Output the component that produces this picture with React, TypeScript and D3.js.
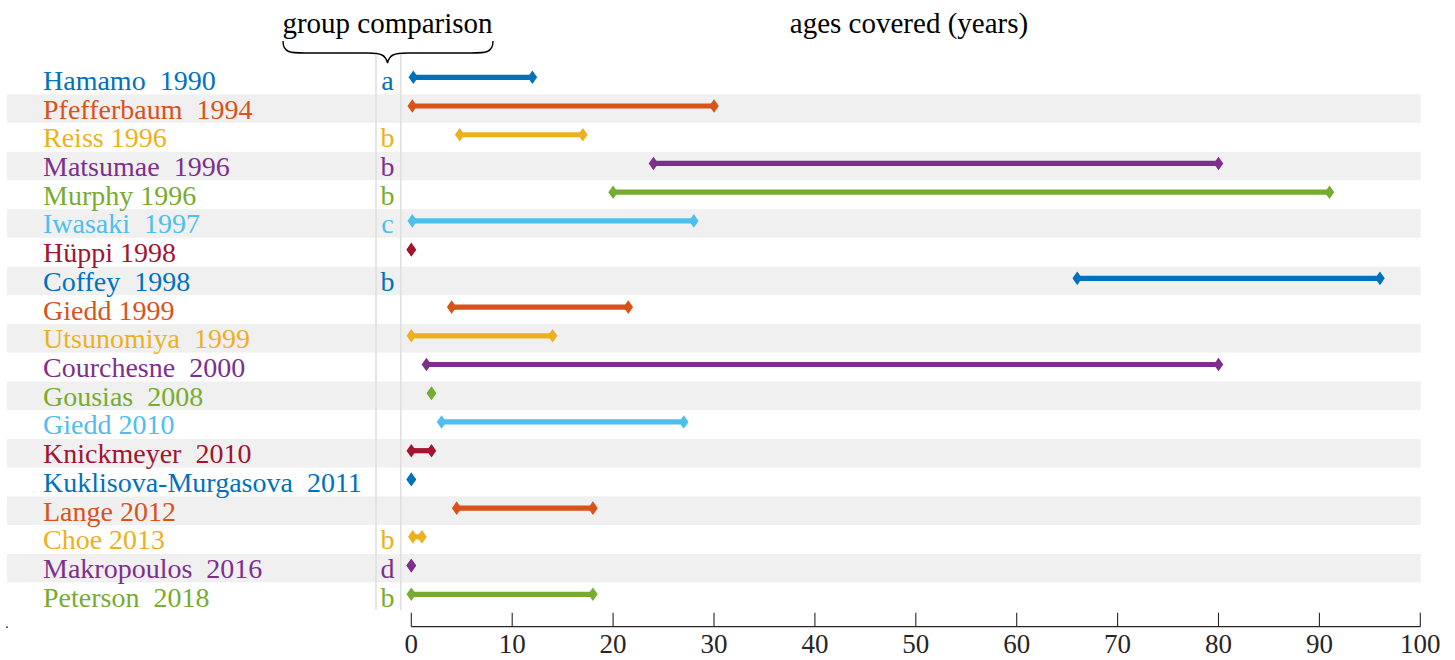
import React from "react";
import * as d3 from "d3";

const studies: string[] = [
  "Hamamo  1990", "Pfefferbaum  1994", "Reiss 1996", "Matsumae  1996", "Murphy 1996",
  "Iwasaki  1997", "Hüppi 1998", "Coffey  1998", "Giedd 1999", "Utsunomiya  1999",
  "Courchesne  2000", "Gousias  2008", "Giedd 2010", "Knickmeyer  2010",
  "Kuklisova-Murgasova  2011", "Lange 2012", "Choe 2013", "Makropoulos  2016", "Peterson  2018",
];
const groupLetters: string[] = ["a", "", "b", "b", "b", "c", "", "b", "", "", "", "", "", "", "", "", "b", "d", "b"];
const ageMin: number[] = [0.2, 0.1, 4.8, 24, 20, 0.1, 0, 66, 4, 0, 1.5, 2, 3, 0, 0, 4.5, 0.15, 0, 0];
const ageMax: number[] = [12, 30, 17, 80, 91, 28, 0, 96, 21.5, 14, 80, 2, 27, 2, 0, 18, 1.05, 0, 18];
const xTicks: number[] = [0, 10, 20, 30, 40, 50, 60, 70, 80, 90, 100];
const palette: string[] = ["#0072BD", "#D95319", "#EDB120", "#7E2F8E", "#77AC30", "#4DBEEE", "#A2142F"];

const W = 1455;
const H = 660;
const FONT = "Liberation Serif, DejaVu Serif, serif";

export default function App() {
  const x = d3.scaleLinear().domain([0, 100]).range([411.3, 1420.3]);
  const y = d3.scalePoint<number>().domain(d3.range(studies.length)).range([77.3, 594.3]);
  const step = y.step();
  const color = (i: number) => palette[i % palette.length];
  const axisY = 626.7;
  const diamond = (cx: number, cy: number) =>
    `M${cx - 4.8},${cy}L${cx},${cy - 6.8}L${cx + 4.8},${cy}L${cx},${cy + 6.8}Z`;

  const braceL = 283, braceR = 493, braceMid = 387.5, braceTop = 41, braceMidY = 53, braceTip = 63;
  const brace =
    `M${braceL},${braceTop} C${braceL},${braceMidY} ${braceL + 8},${braceMidY} ${braceL + 22},${braceMidY}` +
    ` L${braceMid - 20},${braceMidY} C${braceMid - 6},${braceMidY} ${braceMid - 2},${braceMidY + 2} ${braceMid},${braceTip}` +
    ` C${braceMid + 2},${braceMidY + 2} ${braceMid + 6},${braceMidY} ${braceMid + 20},${braceMidY}` +
    ` L${braceR - 22},${braceMidY} C${braceR - 8},${braceMidY} ${braceR},${braceMidY} ${braceR},${braceTop}`;

  return (
    <svg width={W} height={H} style={{ position: "absolute", left: 0, top: 0, background: "#fff", fontFamily: FONT }}>
      {studies.map((s, i) =>
        i % 2 === 1 ? (
          <rect key={"b" + i} x={7} y={(y(i) as number) - 11.7} width={1420.7 - 7} height={step - 0.2} fill="#f0f0f0" />
        ) : null
      )}
      <line x1={376} x2={376} y1={55} y2={610} stroke="#dedede" strokeWidth={1.5} />
      <line x1={400.7} x2={400.7} y1={55} y2={610} stroke="#dedede" strokeWidth={1.5} />
      <text x={braceMid} y={33} textAnchor="middle" fontSize={29} fill="#000">group comparison</text>
      <text x={909} y={33} textAnchor="middle" fontSize={29} fill="#000">ages covered (years)</text>
      <path d={brace} fill="none" stroke="#000" strokeWidth={1.4} />
      {studies.map((s, i) => (
        <text key={"l" + i} x={43} y={(y(i) as number) + 12.5} fontSize={28} fill={color(i)} style={{ whiteSpace: "pre" }}>
          {s}
        </text>
      ))}
      {groupLetters.map((g, i) =>
        g ? (
          <text key={"g" + i} x={387.5} y={(y(i) as number) + 12.5} textAnchor="middle" fontSize={28} fill={color(i)}>
            {g}
          </text>
        ) : null
      )}
      {studies.map((s, i) => {
        const cy = y(i) as number;
        const x0 = x(ageMin[i]);
        const x1 = x(ageMax[i]);
        return (
          <g key={"r" + i} fill={color(i)} stroke="none">
            {x1 > x0 ? <line x1={x0} x2={x1} y1={cy} y2={cy} stroke={color(i)} strokeWidth={5.2} /> : null}
            <path d={diamond(x0, cy)} />
            <path d={diamond(x1, cy)} />
          </g>
        );
      })}
      <line x1={x(0)} x2={x(100)} y1={axisY} y2={axisY} stroke="#262626" strokeWidth={1.2} />
      {xTicks.map((t) => (
        <g key={"t" + t}>
          <line x1={x(t)} x2={x(t)} y1={axisY} y2={axisY - 14} stroke="#262626" strokeWidth={1.1} />
          <text x={x(t)} y={653} textAnchor="middle" fontSize={27} fill="#262626">
            {t}
          </text>
        </g>
      ))}
      <rect x={6} y={626.5} width={2} height={1.2} fill="#262626" />
    </svg>
  );
}
